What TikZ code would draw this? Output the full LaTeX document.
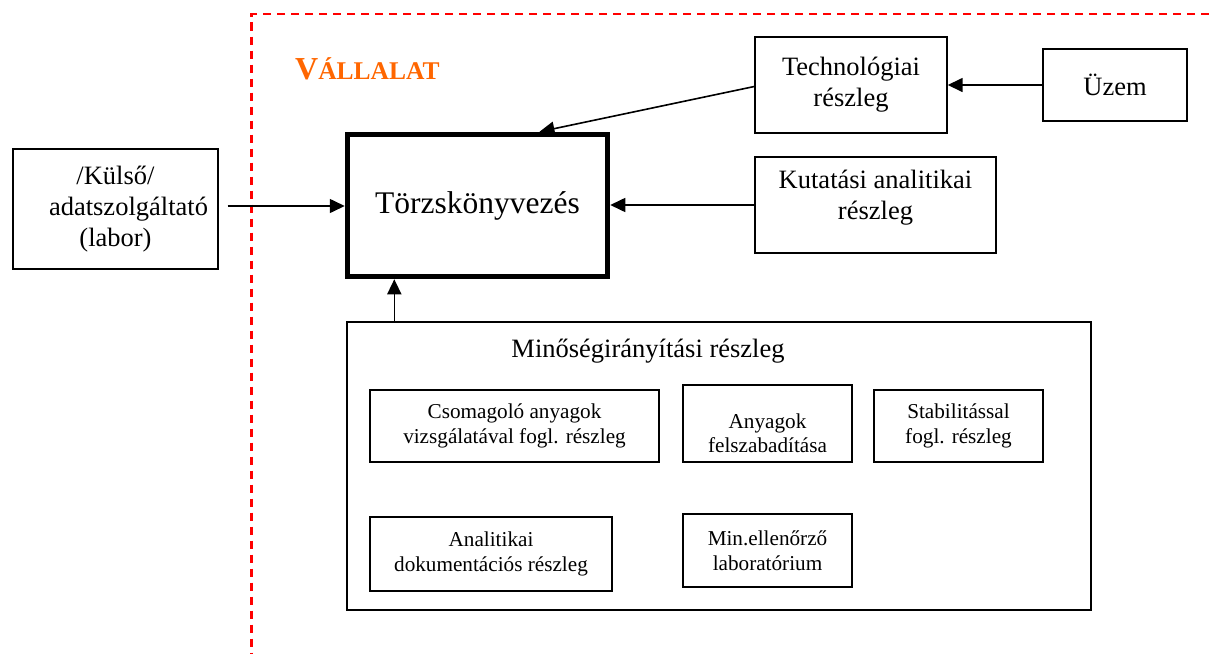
\documentclass[tikz,border=0pt]{standalone}
\usepackage{fontspec}
\setmainfont{Liberation Serif}
\usetikzlibrary{arrows.meta,calc}
\definecolor{companyred}{HTML}{FF0000}
\definecolor{companyorange}{HTML}{FF6600}

\tikzset{
  box/.style={draw, line width=1.4pt, inner sep=0pt, align=center},
  bigtxt/.style={font=\fontsize{26.5}{31}\selectfont, align=center},
  smalltxt/.style={font=\fontsize{21.2}{24.5}\selectfont, align=center},
  mainbox/.style={draw, line width=5.5pt, inner sep=0pt, align=center,
                  font=\fontsize{31.5}{36}\selectfont},
  arr/.style={line width=1.6pt, -{Triangle[length=15pt,width=14pt]}},
  border/.style={companyred, line width=2.3pt, dash pattern=on 8.5pt off 5.5pt}
}

\begin{document}
\begin{tikzpicture}[x=1pt,y=-1pt]
  \useasboundingbox (0,0) rectangle (1209,653);

  % company boundary
  \coordinate (bnd-right) at (1209,14);
  \coordinate (bnd-corner) at (251.5,14);
  \coordinate (bnd-bottom) at (251.5,653);
  \draw[border] (bnd-right) -- (bnd-corner) -- (bnd-bottom);

  \node[anchor=base west, inner sep=0pt, text=companyorange] (company) at (295,79)
    {\bfseries\fontsize{32}{36}\selectfont V\fontsize{25.5}{30}\selectfont ÁLLALAT};

  % central register
  \node[mainbox, minimum width=260pt, minimum height=142pt] (torzs) at (477.5,205.5)
    {Törzskönyvezés};

  % external data provider
  \node[box, bigtxt, minimum width=205pt, minimum height=120pt] (kulso) at (115.5,209)
    {/Külső/\\\hspace*{26pt}adatszolgáltató\\(labor)};

  % technology and plant
  \node[box, bigtxt, minimum width=192pt, minimum height=96pt] (tech) at (851,85)
    {Technológiai\\részleg};
  \node[box, bigtxt, minimum width=144pt, minimum height=72pt] (uzem) at (1115,85)
    {Üzem};

  % research analytics
  \node[box, minimum width=241pt, minimum height=96pt] (kut) at (875.5,205) {};
  \node[bigtxt] (kut-txt) at (875.5,198) {Kutatási analitikai\\részleg};

  % quality management
  \node[box, minimum width=744pt, minimum height=288pt] (mino) at (719,466) {};
  \node[bigtxt] (mino-title) at (648,351) {Minőségirányítási részleg};

  \node[box, smalltxt, minimum width=289pt, minimum height=72pt] (csom) at (514.5,426)
    {Csomagoló anyagok\\vizsgálatával fogl. részleg};
  \node[box, minimum width=169pt, minimum height=77pt] (anyag) at (767.5,423.5) {};
  \node[smalltxt] (anyag-txt) at (767.5,433) {Anyagok\\felszabadítása};
  \node[box, smalltxt, minimum width=169pt, minimum height=72pt] (stab) at (958.5,426)
    {Stabilitással\\fogl. részleg};
  \node[box, smalltxt, minimum width=242pt, minimum height=74pt] (anal) at (491,554)
    {Analitikai\\dokumentációs részleg};
  \node[box, smalltxt, minimum width=169pt, minimum height=73pt] (minell) at (767.5,550.5)
    {Min.ellenőrző\\laboratórium};

  % data flows into the register
  \coordinate (kulso-out) at ($(kulso.east)+(9,-3)$);
  \draw[arr] (kulso-out) -- (kulso-out -| torzs.west);
  \draw[arr] (kut.west) -- (kut.west -| torzs.east);
  \draw[arr] ($(tech.west)+(0,1.5)$) -- ($(torzs.north)+(62,0)$);
  \draw[arr] (uzem.west) -- (uzem.west -| tech.east);
  \coordinate (mino-out) at ($(mino.north west)+(48,0)$);
  \draw[arr] (mino-out) -- (mino-out |- torzs.south);
\end{tikzpicture}
\end{document}
